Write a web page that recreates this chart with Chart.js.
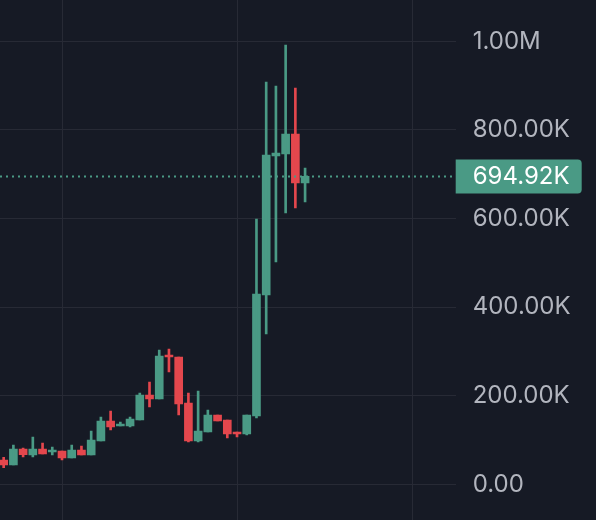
<!DOCTYPE html>
<html>
<head>
<meta charset="utf-8">
<script src="https://cdn.jsdelivr.net/npm/chart.js@4"></script>
<style>
  html, body { margin: 0; padding: 0; background: #161a25; }
  #wrap { width: 596px; height: 520px; position: relative; }
</style>
</head>
<body>
<div id="wrap"><canvas id="chart"></canvas></div>
<script>
// OHLC per candle, oldest first
const opens = [54900, 43600, 79700, 66100, 79700, 72900, 75200, 59400, 77400, 66100, 97700, 142900,
  131600, 131600, 145100, 201600, 192500, 291900, 287400, 183500, 97700, 118100, 156500, 145100,
  118100, 113500, 154200, 427300, 741100, 745600, 790700, 680100];
const highs = [60900, 88700, 81900, 106800, 93200, 84200, 75200, 88700, 86500, 120300, 151900, 165500,
  140600, 151900, 206100, 230900, 303200, 305400, 287400, 206100, 210600, 167800, 156500, 145100,
  118100, 156500, 598900, 908100, 899100, 991700, 894600, 714000];
const lows = [37500, 43600, 61600, 61600, 68400, 66100, 54900, 59400, 66100, 66100, 97700, 122500,
  131600, 129300, 145100, 174500, 192500, 253500, 156500, 95400, 95400, 118100, 142900, 104500,
  106800, 111300, 149700, 339700, 501800, 612400, 623700, 637200];
const closes = [43600, 79700, 66800, 79700, 68400, 77400, 59400, 77400, 66100, 100000, 142900, 129300,
  136100, 147400, 201600, 192500, 289600, 287400, 181300, 97700, 120300, 156500, 142900, 113500,
  113500, 156500, 429600, 743300, 747900, 790700, 680100, 694920];

const priceTicks = [0, 200000, 400000, 600000, 800000, 1000000];
const timeGridTicks = [6, 24, 42];
const lastPrice = 694920;

const UP = '#4a9a85';
const DOWN = '#e4474d';
const GRID = '#272a35';
const TEXT = '#b2b5be';

const fmtPrice = (v) => {
  if (v >= 1e6) return (v / 1e6).toFixed(2) + 'M';
  if (v >= 1e3) return (v / 1e3).toFixed(2) + 'K';
  return v.toFixed(2);
};

const candleColors = opens.map((o, i) => (closes[i] >= o ? UP : DOWN));

const priceLinePlugin = {
  id: 'priceLine',
  afterDatasetsDraw(chart) {
    const { ctx, chartArea } = chart;
    const y = chart.scales.y.getPixelForValue(lastPrice);
    ctx.save();
    ctx.strokeStyle = UP;
    ctx.lineWidth = 2;
    ctx.setLineDash([2, 4]);
    ctx.beginPath();
    ctx.moveTo(chartArea.left, y);
    ctx.lineTo(chartArea.right, y);
    ctx.stroke();
    ctx.restore();
  },
  afterDraw(chart) {
    const { ctx, chartArea } = chart;
    const y = chart.scales.y.getPixelForValue(lastPrice);
    const left = chartArea.right;
    const w = 126;
    const h = 34;
    ctx.save();
    ctx.fillStyle = UP;
    ctx.beginPath();
    ctx.roundRect(left, y - h / 2, w, h, [0, 4, 4, 0]);
    ctx.fill();
    ctx.fillStyle = '#ffffff';
    ctx.font = '24px Inter';
    ctx.textAlign = 'left';
    ctx.textBaseline = 'middle';
    ctx.fillText(fmtPrice(lastPrice), left + 17, y);
    ctx.restore();
  },
};

const noPadding = (scale) => {
  scale.paddingTop = 0;
  scale.paddingBottom = 0;
  scale.paddingLeft = 0;
  scale.paddingRight = 0;
};

new Chart(document.getElementById('chart'), {
  type: 'bar',
  data: {
    datasets: [
      {
        label: 'wick',
        data: lows.map((l, i) => ({ x: i, y: [l, highs[i]] })),
        backgroundColor: candleColors,
        barThickness: 2,
        grouped: false,
      },
      {
        label: 'body',
        data: opens.map((o, i) => ({ x: i, y: [o, closes[i]] })),
        backgroundColor: candleColors,
        barThickness: 8,
        minBarLength: 2,
        grouped: false,
      },
    ],
  },
  options: {
    responsive: true,
    maintainAspectRatio: false,
    animation: false,
    layout: { padding: 0 },
    plugins: {
      legend: { display: false },
      tooltip: { enabled: false },
    },
    scales: {
      x: {
        type: 'linear',
        min: -0.377,
        max: 46.49,
        offset: false,
        border: { display: false },
        grid: { color: GRID, drawTicks: false, offset: false },
        ticks: { display: false },
        afterBuildTicks(scale) {
          scale.ticks = timeGridTicks.map((value) => ({ value }));
        },
        afterFit(scale) {
          scale.height = 0;
          noPadding(scale);
        },
      },
      y: {
        position: 'right',
        min: -80600,
        max: 1093200,
        border: { display: false },
        grid: { color: GRID, drawTicks: false },
        ticks: {
          color: TEXT,
          padding: 17,
          font: { family: 'Inter', size: 24 },
          callback: (v) => fmtPrice(v),
        },
        afterBuildTicks(scale) {
          scale.ticks = priceTicks.map((value) => ({ value }));
        },
        afterFit(scale) {
          scale.width = 140.3;
          noPadding(scale);
        },
      },
    },
  },
  plugins: [priceLinePlugin],
});
</script>
</body>
</html>
